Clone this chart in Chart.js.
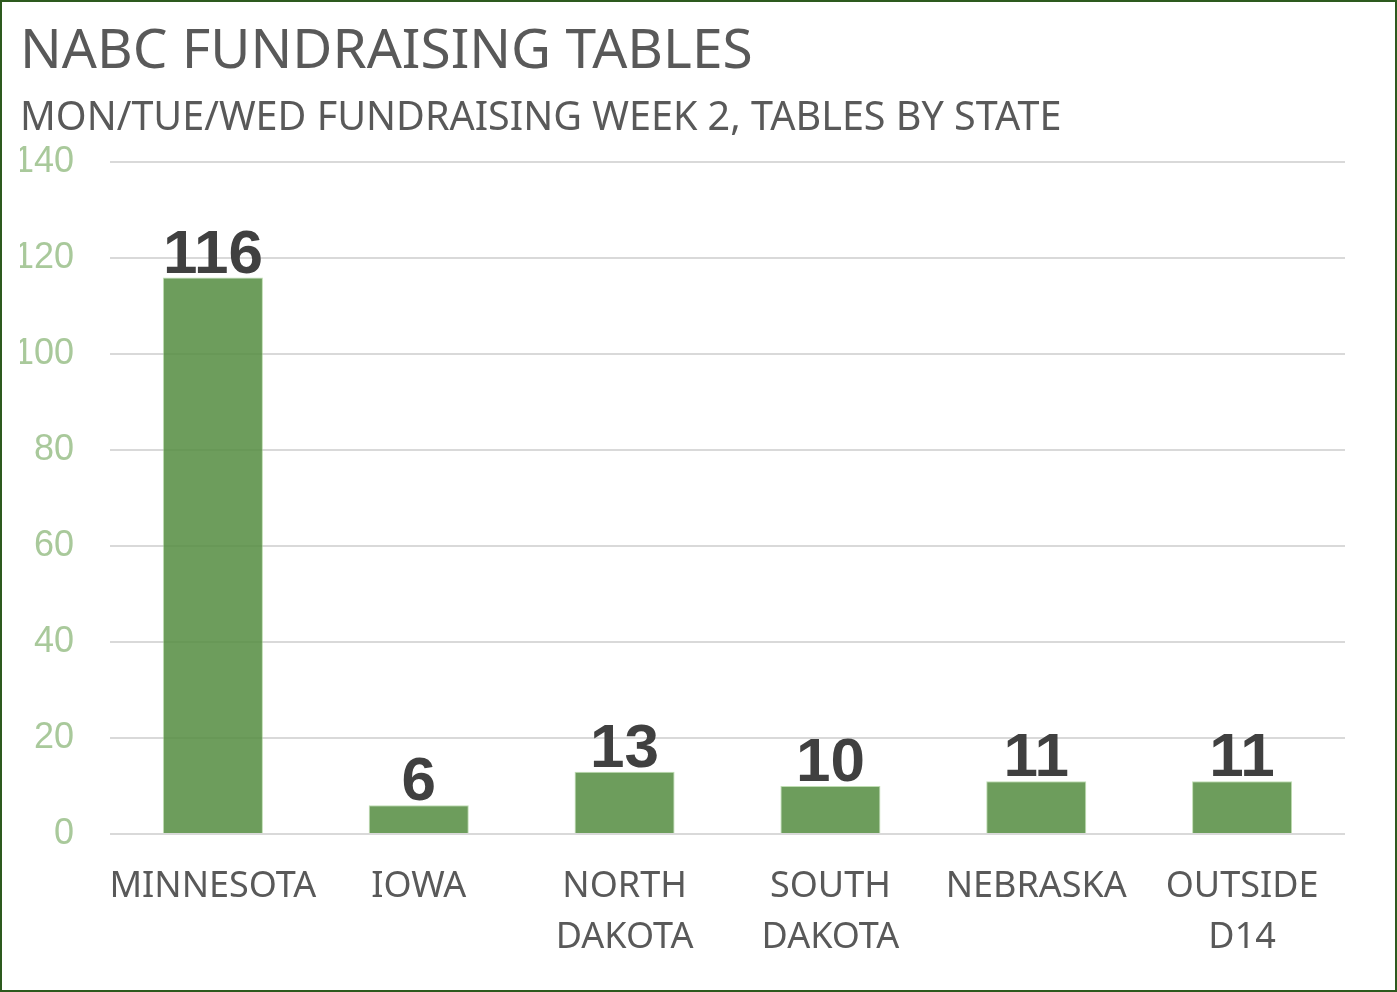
<!DOCTYPE html>
<html>
<head>
<meta charset="utf-8">
<script src="https://cdn.jsdelivr.net/npm/chart.js@4"></script>
<style>
    html, body { margin: 0; padding: 0; background: #fff; }
    #wrap {
        width: 1397px; height: 992px; box-sizing: border-box;
        border: 2px solid #2d5a1e; background: #fff;
    }
    #wrap canvas { display: block; }
</style>
</head>
<body>
<div id="wrap"><canvas id="myChart" width="1393" height="988"></canvas></div>
<script>
// data
const states = ['MINNESOTA', 'IOWA', ['NORTH', 'DAKOTA'], ['SOUTH', 'DAKOTA'], 'NEBRASKA', ['OUTSIDE', 'D14']];
const tables = [116, 6, 13, 10, 11, 11];
const yTicks = [0, 20, 40, 60, 80, 100, 120, 140];

// value labels above bars
const barLabels = {
    id: 'barLabels',
    afterDatasetsDraw(chart) {
        const ctx = chart.ctx;
        const meta = chart.getDatasetMeta(0);
        ctx.save();
        ctx.font = 'bold 62px "Liberation Sans", Arial, sans-serif';
        ctx.fillStyle = '#404040';
        ctx.textAlign = 'center';
        ctx.textBaseline = 'alphabetic';
        meta.data.forEach(function (bar, i) {
            ctx.fillText(String(tables[i]), bar.x, bar.y - 5);
        });
        ctx.restore();
    }
};

new Chart(document.getElementById('myChart'), {
    type: 'bar',
    data: {
        labels: states,
        datasets: [{
            data: tables,
            backgroundColor: 'rgba(84, 140, 64, 0.85)',
            borderColor: 'rgba(150, 200, 130, 0.6)',
            borderWidth: 1,
            categoryPercentage: 1,
            barPercentage: 0.486
        }]
    },
    options: {
        responsive: false,
        animation: false,
        layout: { padding: { left: 18, right: 50, top: 0, bottom: 0 } },
        plugins: {
            legend: { display: false },
            tooltip: { enabled: false },
            title: {
                display: true,
                text: 'NABC FUNDRAISING TABLES',
                align: 'start',
                color: '#595959',
                font: { family: '"Noto Sans", sans-serif', size: 55, weight: 'normal' },
                padding: { top: 17, bottom: 10 }
            },
            subtitle: {
                display: true,
                text: 'MON/TUE/WED FUNDRAISING WEEK 2, TABLES BY STATE',
                align: 'start',
                color: '#595959',
                font: { family: '"Noto Sans", sans-serif', size: 39.5, weight: 'normal' },
                padding: { top: 0, bottom: 20 }
            }
        },
        scales: {
            x: {
                grid: { display: false },
                border: { display: false },
                ticks: {
                    color: '#595959',
                    font: { family: '"Noto Sans", sans-serif', size: 36, lineHeight: 1.4 },
                    padding: 20,
                    maxRotation: 0,
                    autoSkip: false
                },
                afterFit: function (scale) { scale.height = 156; }
            },
            y: {
                min: 0,
                max: 140,
                afterBuildTicks: function (scale) {
                    scale.ticks = yTicks.map(v => ({ value: v }));
                },
                grid: { color: '#d9d9d9', lineWidth: 2, drawTicks: false },
                border: { display: false },
                ticks: {
                    color: '#a9c99b',
                    font: { family: '"Liberation Sans", Arial, sans-serif', size: 36 },
                    padding: 36
                },
                afterFit: function (scale) { scale.width = 90; }
            }
        }
    },
    plugins: [barLabels]
});
</script>
</body>
</html>
